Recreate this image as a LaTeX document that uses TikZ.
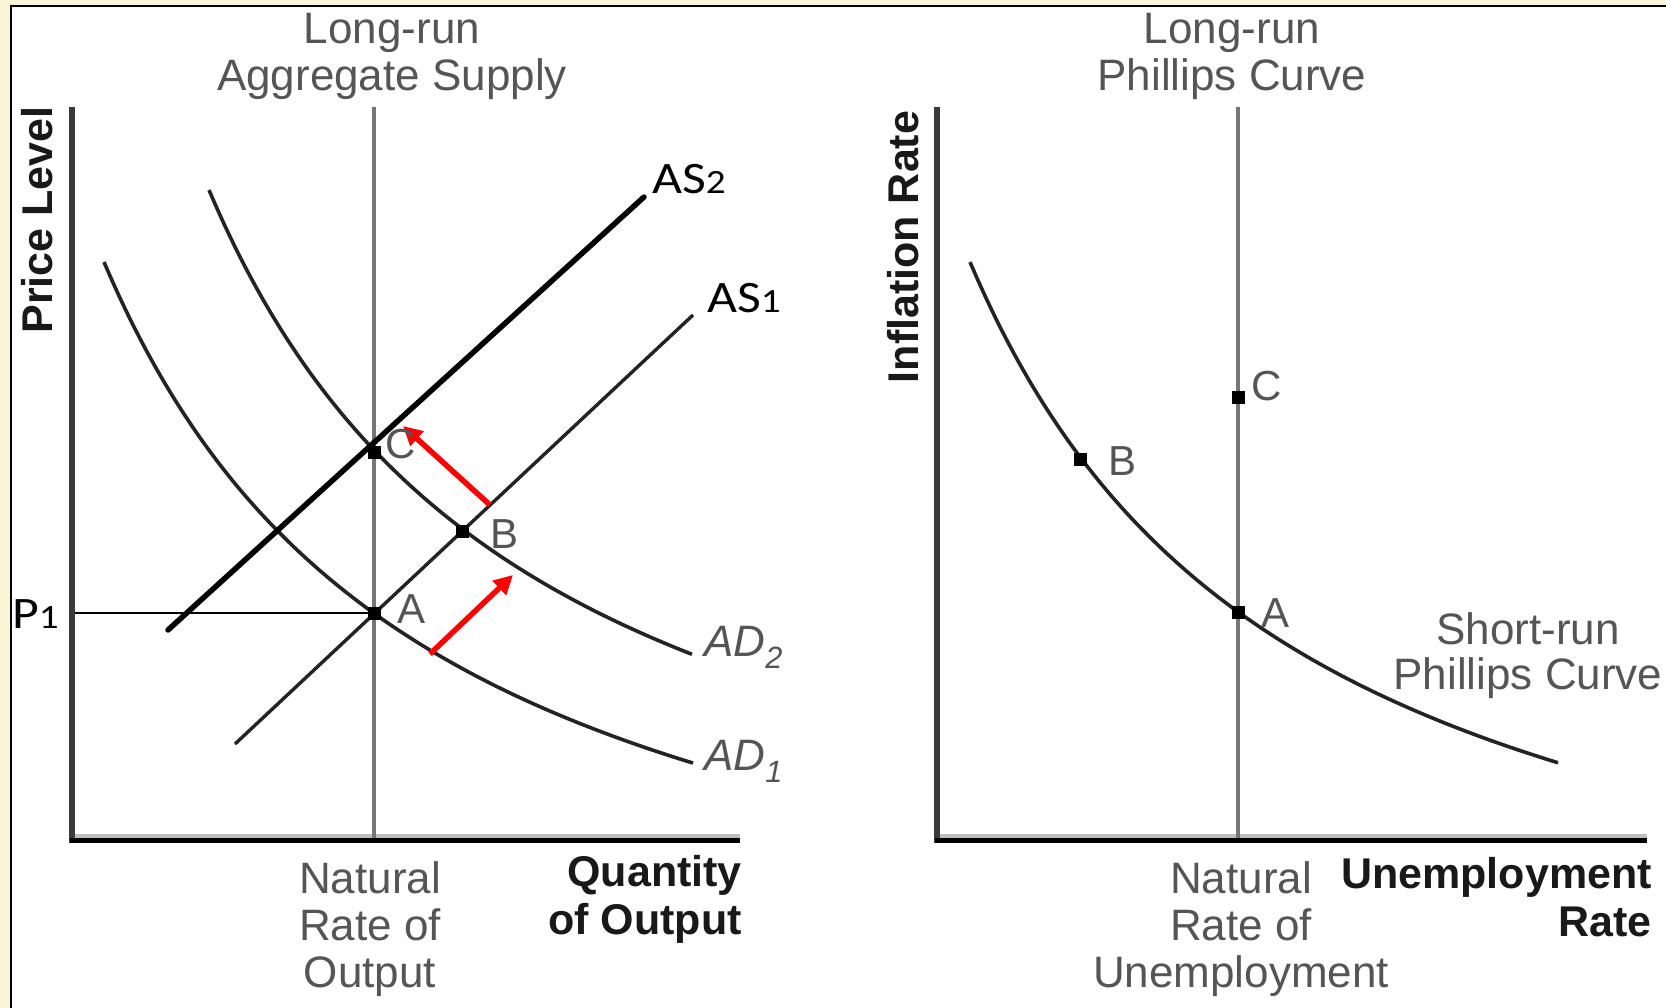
\documentclass[tikz,border=0pt]{standalone}
\usepackage{fontspec}
\setmainfont{Liberation Sans}
\newfontfamily\curvefont[FakeStretch=1.15]{Carlito}
\usetikzlibrary{arrows.meta}

\definecolor{cream}{RGB}{250,245,215}
\definecolor{txtgray}{RGB}{85,85,85}
\definecolor{axisgray}{RGB}{58,58,58}
\definecolor{lrgray}{RGB}{118,118,118}
\definecolor{shadegray}{RGB}{190,190,190}
\definecolor{curvegray}{RGB}{35,35,35}

\newcommand{\lowdigit}[1]{{\fontsize{34}{34}\selectfont #1}}

\tikzset{
  graytxt/.style={text=txtgray, inner sep=0pt, font=\fontsize{44}{47}\selectfont},
  boldtxt/.style={text=black!90, inner sep=0pt, font=\fontsize{43}{48}\selectfont\bfseries},
  curvelabel/.style={inner sep=0pt, anchor=base west, font=\fontsize{45}{45}\curvefont},
  ptlabel/.style={text=txtgray, inner sep=0pt, anchor=base west, font=\fontsize{42}{42}\selectfont},
  eqdot/.style={fill=black, inner sep=0pt, minimum size=13pt},
  curve/.style={curvegray, line width=3.6pt, smooth, samples=80},
  oldsupply/.style={curvegray, line width=3.4pt},
  newsupply/.style={black, line width=5.5pt},
  moveline/.style={red, line width=5.5pt, -{Triangle[length=19pt,width=19pt]}},
}

\begin{document}
\begin{tikzpicture}[x=1pt,y=-1pt]
  \useasboundingbox (0,0) rectangle (1666,1008);
  % background and frame
  \fill[cream] (0,0) rectangle (1666,1008);
  \fill[white] (11,6) rectangle (1666,1008);
  \draw[line width=2.2pt] (11,1008) -- (11,6) -- (1666,6);

  % axes and long-run lines of both panels
  \foreach \ox/\xr/\lr in {72/740/374, 937/1647/1238} {
    \draw[shadegray, line width=4pt] (\ox+2,835.5) -- (\xr,835.5);
    \draw[axisgray, line width=6pt] (\ox,107) -- (\ox,843);
    \draw[line width=5pt] (\ox-2,840.5) -- (\xr,840.5);
    \draw[lrgray, line width=4pt] (\lr,107) -- (\lr,838);
  }

  % demand curves and short-run Phillips curve
  \draw[curve] plot[domain=104:693] (\x,{1045.8-260.525/((\x+228.4)/1000)});
  \draw[curve] plot[domain=209:692] (\x,{973.8-260.525/((\x+123.4)/1000)});
  \draw[curve] plot[domain=970:1558] (\x,{1045.8-260.525/((\x-637.6)/1000)});

  % supply lines
  \coordinate (as1lo) at (235,744);
  \coordinate (as1hi) at (693,315);
  \coordinate (as2lo) at (168,630);
  \coordinate (as2hi) at (644,197);
  \draw[oldsupply] (as1lo) -- (as1hi);
  \draw[newsupply, line cap=round] (as2lo) -- (as2hi);

  % equilibrium points
  \node[eqdot] (A) at (374,613) {};
  \node[eqdot] (B) at (462,531) {};
  \node[eqdot] (C) at (374,452) {};
  \node[eqdot] (pA) at (1238,612) {};
  \node[eqdot] (pB) at (1080,459) {};
  \node[eqdot] (pC) at (1238,397) {};

  \coordinate (p1) at (75,613);
  \draw[line width=2.5pt] (p1) -- (A.center);

  % shifts
  \coordinate (ad1tail) at (430,654);
  \coordinate (ad2head) at (513,575);
  \coordinate (as1tail) at (490,505);
  \coordinate (as2head) at (403,426);
  \draw[moveline] (ad1tail) -- (ad2head);
  \draw[moveline] (as1tail) -- (as2head);

  % point labels
  \node[ptlabel] (labA) at (397,623) {A};
  \node[ptlabel] (labB) at (490,548) {B};
  \node[ptlabel] (labC) at (385,458) {C};
  \node[ptlabel] (labpA) at (1261,627) {A};
  \node[ptlabel] (labpB) at (1108,475) {B};
  \node[ptlabel] (labpC) at (1251,400) {C};

  % curve labels
  \node[curvelabel] (as2) at (652,194) {AS\lowdigit{2}};
  \node[curvelabel] (as1) at (707,313) {AS\lowdigit{1}};
  \node[curvelabel] (plev) at (12,628) {P\lowdigit{1}};
  \node[graytxt, anchor=base west] (ad2) at (704,656) {\itshape AD\textsubscript{2}};
  \node[graytxt, anchor=base west] (ad1) at (704,770) {\itshape AD\textsubscript{1}};
  \node[graytxt, anchor=north, align=center, font=\fontsize{44}{44.5}\selectfont]
    (srpc) at (1528,612.5) {Short-run\\Phillips Curve};

  % titles and axis texts
  \node[graytxt, anchor=north, align=center] (lras) at (392,13.5) {Long-run\\Aggregate Supply};
  \node[graytxt, anchor=north, align=center] (lrpc) at (1232,13.5) {Long-run\\Phillips Curve};
  \node[boldtxt, rotate=90] (ylab) at (37,220) {Price Level};
  \node[boldtxt, rotate=90] (pylab) at (903,247) {Inflation Rate};
  \node[graytxt, anchor=north, align=center] (natout) at (370,861.5) {Natural\\Rate of\\Output};
  \node[graytxt, anchor=north, align=center] (natun) at (1241,861.5) {Natural\\Rate of\\Unemployment};
  \node[boldtxt, anchor=north east, align=right] (xlab) at (742,855) {Quantity\\of Output};
  \node[boldtxt, anchor=north east, align=right] (pxlab) at (1652,857) {Unemployment\\Rate};
\end{tikzpicture}
\end{document}
